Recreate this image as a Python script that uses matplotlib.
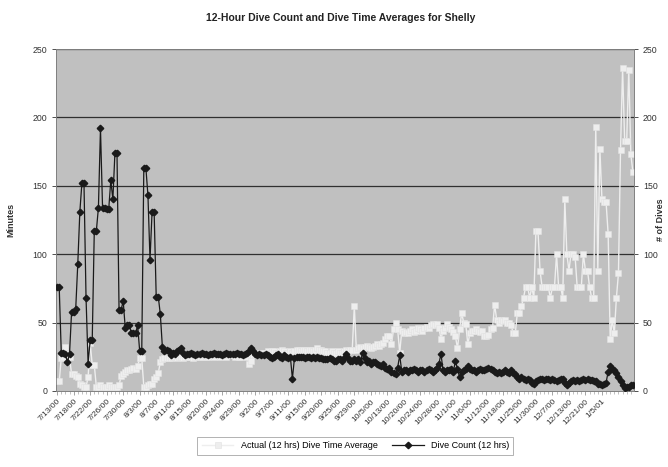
import matplotlib
matplotlib.use("Agg")
from matplotlib import pyplot as plt
import numpy as np

plt.rcParams['font.family'] = ['Liberation Sans', 'DejaVu Sans']

# dive count per 12 hrs (black diamonds)
dive_count = (
    [76, 76, 28, 28, 27, 21, 27, 58, 58, 60, 93, 131, 152, 152, 68, 20, 37, 37, 117, 117,
     134, 192, 134, 134, 133, 133, 154, 140, 174, 174, 59, 59, 66, 46, 48, 48, 42, 42, 42, 48,
     29, 29, 163, 163, 143, 96, 131, 131, 69, 69, 56, 32, 29, 30]
    + [29, 26, 28, 27, 29, 30, 31, 28, 26, 27]
    + [27, 28, 27, 26, 27, 27, 28, 27, 27, 26, 27, 27, 28, 27, 27, 27, 26, 27, 28, 27,
       27, 27, 27, 28, 27, 27, 26, 27, 28, 29]
    + [31, 29, 27, 26, 27, 26]
    + [26, 27, 26, 25, 24, 25, 26, 27, 25, 24, 26, 25, 24, 25]
    + [9]
    + [24, 25, 25, 25, 25, 24, 25, 25, 24, 25, 24, 25, 24, 24, 23]
    + [23, 23, 24, 23, 22, 22, 23, 23, 22, 24]
    + [27, 24, 22, 22, 23, 22, 23, 21]
    + [28, 24, 21, 22, 20, 21, 21, 20, 19, 18, 20]
    + [17, 16, 17, 14, 13, 12, 17, 26, 14, 15]
    + [15, 14, 15, 15, 16, 15, 14, 15, 15, 14, 15, 16, 15, 14]
    + [15, 17, 20, 27, 15, 14, 15]
    + [15, 16, 14, 22, 16, 10, 14, 15]
    + [16, 18, 16, 15, 15, 14, 15, 16, 15, 15, 16, 17]
    + [16, 15, 14, 13, 14, 13, 14, 15, 14, 13]
    + [15, 13, 12, 10, 9, 10, 9, 8, 9, 8]
    + [6, 5, 7, 8, 9, 9, 8, 9, 9, 8]
    + [9, 8, 7, 8, 9, 9, 6, 4, 6, 7]
    + [8, 7, 8, 7, 8, 9, 8, 9, 8, 8]
    + [7, 7, 5, 5, 4]
    + [5, 6, 14, 18, 16, 15, 13, 10, 7, 4, 2, 3, 3, 4, 4]
)

# actual 12 hr dive time average, minutes (light squares)
dive_time = (
    [7, 7, 24, 25, 32, 27, 25, 12, 12, 11, 10, 5, 4, 3, 3, 10, 35, 19, 19, 3,
     3, 4, 3, 3, 3, 4, 3, 3, 3, 3, 4, 11, 12, 14, 15, 15, 16, 17, 16, 18,
     24, 24, 3, 3, 4, 5, 5, 9, 10, 13, 21, 23, 24, 24]
    + [24, 24, 25, 25, 24, 25, 25, 24, 25, 26, 25, 25, 24, 25, 26, 25, 25, 26, 25, 25,
       26, 26, 25, 26, 26, 25, 26, 26, 25, 26, 26, 26, 25, 26, 25, 25, 26, 26, 25]
    + [20, 22, 26, 27, 27, 28, 27]
    + [28, 28, 29, 28, 29, 29, 28, 28, 29, 30, 29, 28, 28, 29]
    + [28]
    + [29, 30, 30, 29, 30, 30, 29, 30, 30, 29, 30, 31, 30, 30, 29]
    + [29, 28, 28, 29, 28, 28, 29, 28, 28, 29, 30, 29, 30]
    + [30, 62]
    + [30, 31, 32, 31, 32, 33, 32, 31, 32, 33, 34, 33, 34, 35]
    + [38, 40, 40, 34, 45, 50, 45, 28, 44, 42]
    + [43, 42, 44, 45, 43, 44, 46, 45, 44, 46, 47, 46, 48, 49]
    + [48, 49, 46, 38, 44, 46, 49, 47, 45, 43, 40, 31, 45, 57, 50, 49, 34]
    + [42, 44, 44, 45, 44, 43, 44, 40, 40, 41]
    + [45, 46, 63, 52, 50, 52, 51, 52, 50, 50, 48, 42, 42, 57, 57, 62, 68, 76, 76, 68,
       76, 68, 117, 117, 88, 76, 76, 76, 76, 68, 76, 76, 100, 76, 76, 68, 140, 100, 88, 100,
       100, 98, 76, 76, 76, 100, 88, 88, 76, 68, 68, 193, 88, 177, 140, 138, 138, 115, 38, 52,
       42, 68, 86, 176, 236, 183, 183, 235, 173, 160]
)

date_labels = ['7/13/00', '7/18/00', '7/22/00', '7/26/00', '7/30/00', '8/3/00', '8/7/00',
               '8/11/00', '8/15/00', '8/20/00', '8/24/00', '8/29/00', '9/2/00', '9/7/00',
               '9/11/00', '9/15/00', '9/20/00', '9/25/00', '9/29/00', '10/5/00', '10/13/00',
               '10/20/00', '10/24/00', '10/28/00', '11/1/00', '11/6/00', '11/12/00',
               '11/18/00', '11/25/00', '11/30/00', '12/7/00', '12/13/00', '12/21/00', '1/5/01']

n = max(len(dive_count), len(dive_time))

fig = plt.figure(figsize=(6.68, 4.67), dpi=100)
ax = fig.add_axes([0.084, 0.163, 0.865, 0.732])
ax.set_facecolor('#c0c0c0')

ax.plot(np.arange(len(dive_time)), dive_time, color='#eeeeee', lw=1.0, marker='s',
        ms=3.8, mfc='#eeeeee', mec='#e2e2e2', mew=0.4, label='Actual (12 hrs) Dive Time Average',
        zorder=3)

ax2 = ax.twinx()
ax2.plot(np.arange(len(dive_count)), dive_count, color='#1a1a1a', lw=0.9, marker='D',
         ms=3.3, mfc='#1a1a1a', mec='#1a1a1a', label='Dive Count (12 hrs)', zorder=4)

for a in (ax, ax2):
    a.set_ylim(0, 250)
    a.set_xlim(-0.5, n - 0.5)
    a.set_yticks(range(0, 251, 50))
    a.tick_params(axis='y', length=3, labelsize=6.3, colors='#333333', width=0.6)
    for s in a.spines.values():
        s.set_color('#808080')
        s.set_linewidth(0.6)

for v in range(50, 251, 50):
    ax.axhline(v, color='#303030', lw=0.9, zorder=1)

ax.set_xticks(np.arange(0, 8 * len(date_labels), 8))
ax.set_xticklabels(date_labels, rotation=45, ha='right', rotation_mode='anchor',
                   fontsize=6, color='#333333')
ax.set_xticks(np.arange(0, n, 2), minor=True)
ax.tick_params(axis='x', which='major', length=3, width=0.5, colors='#808080', labelcolor='#333333', pad=2)
ax.tick_params(axis='x', which='minor', length=2, width=0.4, colors='#909090')

ax.set_ylabel('Minutes', fontsize=6.5, fontweight='bold', color='#333333', labelpad=12)
fig.text(0.989, 0.53, '# of Dives', rotation=90, fontsize=6.5, fontweight='bold',
         color='#333333', ha='center', va='center')

fig.suptitle('12-Hour Dive Count and Dive Time Averages for Shelly', x=0.51, y=0.972,
             fontsize=7.5, fontweight='bold', color='#222222')

h1, l1 = ax.get_legend_handles_labels()
h2, l2 = ax2.get_legend_handles_labels()
leg = fig.legend(h1 + h2, l1 + l2, loc='center', bbox_to_anchor=(0.532, 0.045), ncol=2,
                 fontsize=6.5, frameon=True, fancybox=False, edgecolor='#909090',
                 handlelength=3.5, columnspacing=1.6, borderpad=0.5)
leg.get_frame().set_linewidth(0.6)

fig.savefig('out.png', dpi=100)
